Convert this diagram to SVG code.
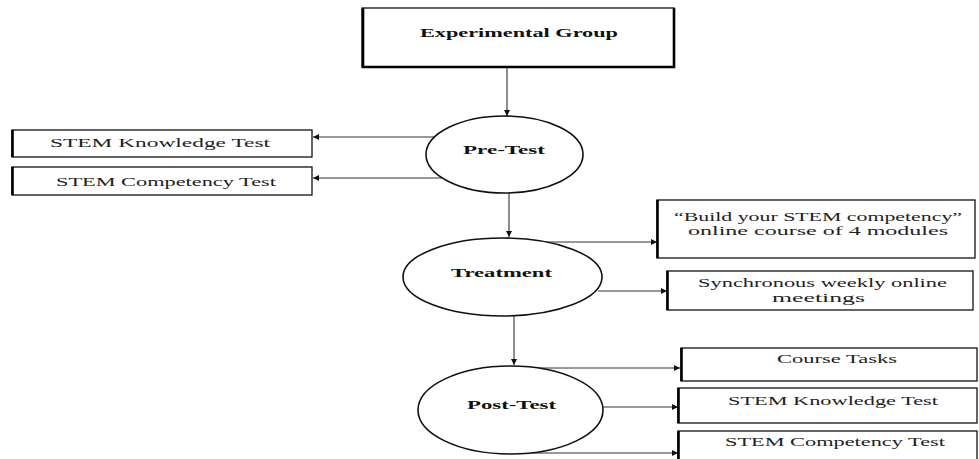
<svg xmlns="http://www.w3.org/2000/svg" width="979" height="459" viewBox="0 0 979 459">
<style>
.box{fill:#fff;stroke:#111;stroke-width:1.3}
.edge{stroke:#000;stroke-width:2.6;fill:none}
.ell{fill:#fff;stroke:#111;stroke-width:1.6}
.c{stroke:#333;stroke-width:1.1;fill:none;marker-end:url(#ah)}
.t{font-family:"Liberation Serif","Times New Roman",serif;font-size:13px;fill:#222}
.b{font-family:"Liberation Serif","Times New Roman",serif;font-size:12.5px;font-weight:bold;fill:#111}
</style>
<defs>
<marker id="ah" viewBox="0 0 10 10" refX="10" refY="5" markerWidth="8" markerHeight="6" markerUnits="userSpaceOnUse" orient="auto">
<path d="M0,0 L10,5 L0,10 z" fill="#111"/>
</marker>
</defs>
<rect width="979" height="459" fill="#fff"/>

<g id="connectors">
<line class="c" x1="507" y1="67" x2="507" y2="116"/>
<line class="c" x1="435" y1="137" x2="313" y2="137"/>
<line class="c" x1="442" y1="178" x2="313" y2="178"/>
<line class="c" x1="509" y1="193" x2="509" y2="237"/>
<line class="c" x1="540" y1="242" x2="657" y2="242"/>
<line class="c" x1="598" y1="291" x2="667" y2="291"/>
<line class="c" x1="514" y1="316" x2="514" y2="365"/>
<line class="c" x1="537" y1="368" x2="680" y2="368"/>
<line class="c" x1="602" y1="407" x2="678" y2="407"/>
<line class="c" x1="532" y1="453" x2="678" y2="453"/>
</g>

<g id="experimental-group">
<rect class="box" x="362" y="8" width="312" height="59"/>
<path class="edge" d="M363,8 V67 H674 V8"/>
<text class="b" x="420" y="37" font-size="13.5" textLength="198" lengthAdjust="spacingAndGlyphs">Experimental Group</text>
</g>

<g id="pre-test">
<ellipse class="ell" cx="504.5" cy="154.5" rx="78.5" ry="38.5"/>
<text class="b" x="463" y="154" textLength="82" lengthAdjust="spacingAndGlyphs">Pre-Test</text>
</g>

<g id="pre-knowledge">
<rect class="box" x="12" y="130" width="300" height="27"/>
<line class="edge" x1="12.5" y1="130" x2="12.5" y2="157"/>
<text class="t" x="50" y="147" textLength="220" lengthAdjust="spacingAndGlyphs">STEM Knowledge Test</text>
</g>

<g id="pre-competency">
<rect class="box" x="12" y="167" width="300" height="28"/>
<line class="edge" x1="12.5" y1="167" x2="12.5" y2="195"/>
<text class="t" x="56" y="186" textLength="220" lengthAdjust="spacingAndGlyphs">STEM Competency Test</text>
</g>

<g id="treatment">
<ellipse class="ell" cx="502.5" cy="277" rx="99.5" ry="39"/>
<text class="b" x="451" y="277" textLength="101" lengthAdjust="spacingAndGlyphs">Treatment</text>
</g>

<g id="course">
<rect class="box" x="657" y="200" width="318" height="58"/>
<line class="edge" x1="657.5" y1="200" x2="657.5" y2="258"/>
<text class="t" x="674" y="221" textLength="288" lengthAdjust="spacingAndGlyphs">“Build your STEM competency”</text>
<text class="t" x="688" y="235" textLength="260" lengthAdjust="spacingAndGlyphs">online course of 4 modules</text>
</g>

<g id="meetings">
<rect class="box" x="667" y="271" width="306" height="39"/>
<line class="edge" x1="667.5" y1="271" x2="667.5" y2="310"/>
<text class="t" x="698" y="287" textLength="249" lengthAdjust="spacingAndGlyphs">Synchronous weekly online</text>
<text class="t" x="772" y="302" textLength="93" lengthAdjust="spacingAndGlyphs">meetings</text>
</g>

<g id="post-test">
<ellipse class="ell" cx="510.5" cy="410" rx="92.5" ry="44"/>
<text class="b" x="467" y="409" textLength="89" lengthAdjust="spacingAndGlyphs">Post-Test</text>
</g>

<g id="course-tasks">
<rect class="box" x="681" y="348" width="296" height="33"/>
<line class="edge" x1="681.5" y1="348" x2="681.5" y2="381"/>
<text class="t" x="777" y="363" textLength="120" lengthAdjust="spacingAndGlyphs">Course Tasks</text>
</g>

<g id="post-knowledge">
<rect class="box" x="678" y="388" width="299" height="35"/>
<line class="edge" x1="678.5" y1="388" x2="678.5" y2="423"/>
<text class="t" x="728" y="405" textLength="210" lengthAdjust="spacingAndGlyphs">STEM Knowledge Test</text>
</g>

<g id="post-competency">
<rect class="box" x="678" y="431" width="299" height="40"/>
<line class="edge" x1="678.5" y1="431" x2="678.5" y2="459"/>
<text class="t" x="725" y="446" textLength="220" lengthAdjust="spacingAndGlyphs">STEM Competency Test</text>
</g>
</svg>
